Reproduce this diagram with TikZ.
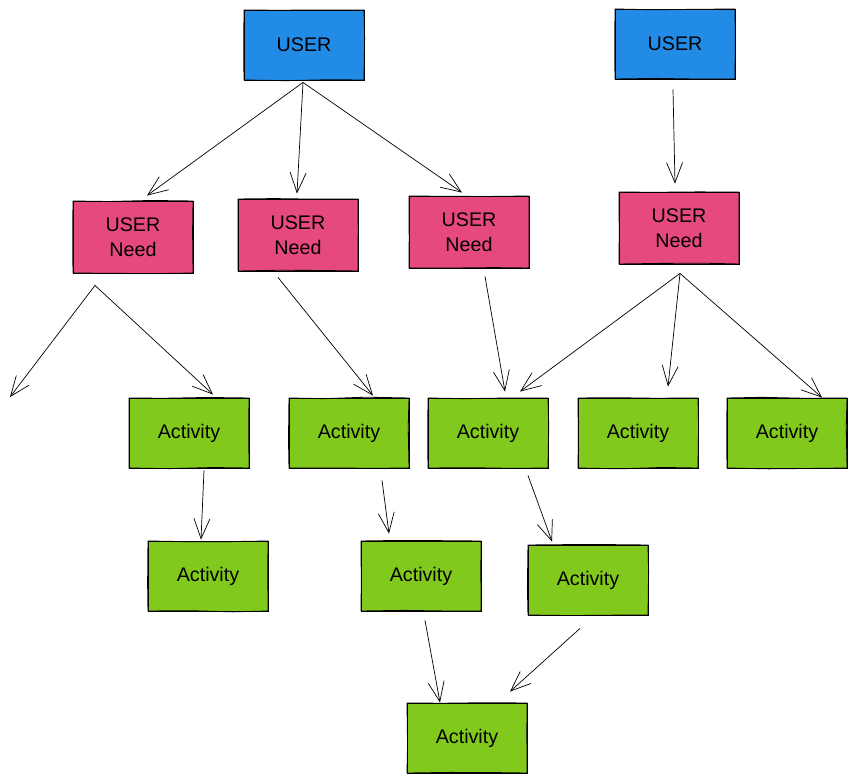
\documentclass[tikz,border=0pt]{standalone}
\usepackage{fontspec}
\setmainfont{Liberation Sans}
\usetikzlibrary{arrows.meta, calc, decorations.pathmorphing}
\definecolor{userblue}{HTML}{228BE6}
\definecolor{needpink}{HTML}{E64980}
\definecolor{actgreen}{HTML}{82C91E}
\begin{document}
\begin{tikzpicture}[
        x = 0.025cm, y = -0.025cm,
every node/.style = {font=\fontsize{14}{18}\selectfont, align=center},
        box/.style = {rectangle, draw, line width=0.6pt, inner sep=0pt,
                      minimum width=3cm, minimum height=1.75cm,
                      postaction={draw, decorate, decoration={random steps, segment length=30pt, amplitude=0.6pt}}},
       user/.style = {box, fill=userblue},
       need/.style = {box, fill=needpink, minimum height=1.8cm},
        act/.style = {box, fill=actgreen},
       link/.style = {-{Straight Barb[length=5mm, width=4mm]}, line width=0.5pt}
                        ]
\useasboundingbox (0,0) rectangle (856,782);
% users
\node (user1) [user] at (304,45) {USER};
\node (user2) [user] at (675,44) {USER};
% needs
\node (need1) [need] at (133,237) {USER\\Need};
\node (need2) [need] at (298,235) {USER\\Need};
\node (need3) [need] at (469,232) {USER\\Need};
\node (need4) [need] at (679,228) {USER\\Need};
% activities
\node (act1) [act] at (189,433) {Activity};
\node (act2) [act] at (349,433) {Activity};
\node (act3) [act] at (488,433) {Activity};
\node (act4) [act] at (638,433) {Activity};
\node (act5) [act] at (787,433) {Activity};
\node (act6) [act] at (208,576) {Activity};
\node (act7) [act] at (421,576) {Activity};
\node (act8) [act] at (588,580) {Activity};
\node (act9) [act] at (467,738) {Activity};
\coordinate (loose) at (10,397);
% links
\draw[link] ($(user1.south)+(-1,2)$) to ($(need1.north)+(14,-5)$);
\draw[link] ($(user1.south)+(-1,2)$) to ($(need2.north)+(-1,-5)$);
\draw[link] ($(user1.south)+(-1,2)$) to ($(need3.north)+(-7,-3)$);
\draw[link] ($(user2.south)+(-2,10)$) to ($(need4.north)+(-4,-8)$);
\draw[link] ($(need1.south)+(-38,12)$) to (loose);
\draw[link] ($(need1.south)+(-38,12)$) to ($(act1.north)+(24,-3)$);
\draw[link] ($(need2.south)+(-20,6)$) to ($(act2.north)+(24,-2)$);
\draw[link] ($(need3.south)+(16,8)$) to ($(act3.north)+(17,-6)$);
\draw[link] ($(need4.south)+(1,9)$) to ($(act3.north)+(32,-6)$);
\draw[link] ($(need4.south)+(1,9)$) to ($(act4.north)+(30,-11)$);
\draw[link] ($(need4.south)+(1,9)$) to ($(act5.north)+(35,0)$);
\draw[link] ($(act1.south)+(15,2)$) to ($(act6.north)+(-7,-1)$);
\draw[link] ($(act2.south)+(33,12)$) to ($(act7.north)+(-32,-7)$);
\draw[link] ($(act3.south)+(40,7)$) to ($(act8.north)+(-36,-3)$);
\draw[link] ($(act7.south)+(4,9)$) to ($(act9.north)+(-27,0)$);
\draw[link] ($(act8.south)+(-8,13)$) to ($(act9.north)+(43,-11)$);
\end{tikzpicture}
\end{document}
